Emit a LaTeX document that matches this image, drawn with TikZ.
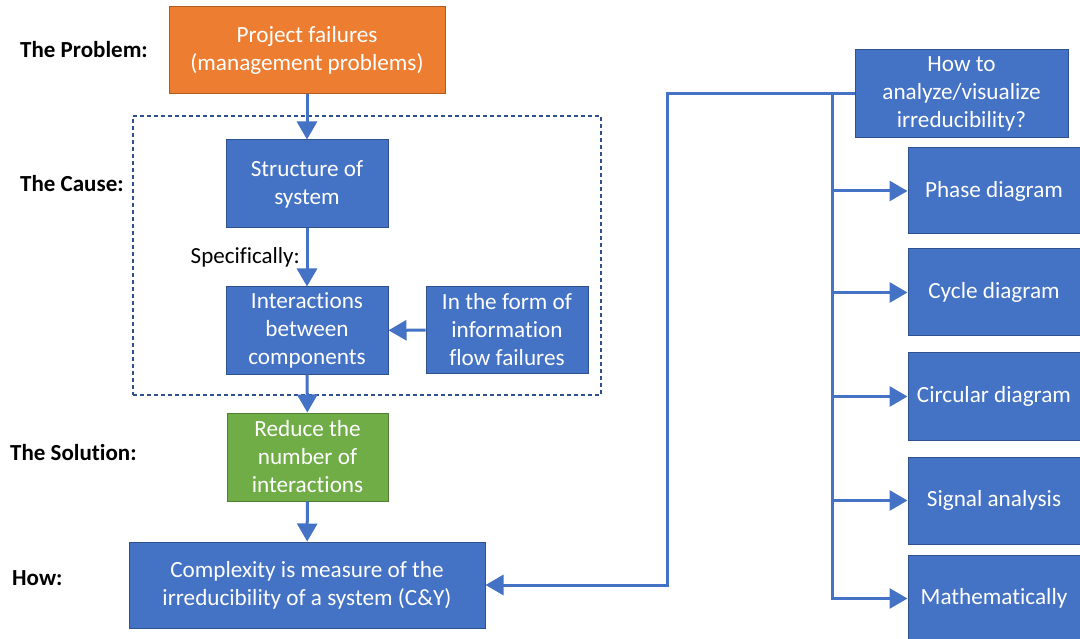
\documentclass[tikz,border=0pt]{standalone}
\usepackage{fontspec}
\setmainfont{Carlito}[Ligatures=NoCommon]
\usepackage{xcolor}
\usetikzlibrary{arrows.meta,positioning}

\definecolor{boxblue}{HTML}{4472C4}
\definecolor{edgeblue}{HTML}{2F528F}
\definecolor{boxorange}{HTML}{ED7D31}
\definecolor{edgeorange}{HTML}{AE5A21}
\definecolor{boxgreen}{HTML}{70AD47}
\definecolor{edgegreen}{HTML}{507E32}

\tikzset{
  block/.style={draw=edgeblue, fill=boxblue, line width=1pt, text=white,
    align=center, inner sep=2pt, font=\fontsize{23.2}{28}\selectfont},
  flow/.style={boxblue, line width=3pt, -{Triangle[length=18pt,width=20pt]}},
  stage/.style={anchor=west, inner sep=0pt, font=\fontsize{23}{28}\selectfont\bfseries},
}

\begin{document}
\begin{tikzpicture}[x=1pt,y=-1pt]
    \useasboundingbox (0,0) rectangle (1080,639);
    \clip (0,0) rectangle (1080,639);

    % dashed frame round the cause
    \node[draw=edgeblue, line width=1.1pt, dash pattern=on 4pt off 3pt,
      minimum width=468pt, minimum height=279pt, inner sep=0pt] (cause) at (367,255.5) {};

    % left column
    \node[block, fill=boxorange, draw=edgeorange, minimum width=276pt, minimum height=87pt]
      (problem) at (307,50.5) {Project failures\\(management problems)};
    \node[block, minimum width=162pt, minimum height=88pt]
      (structure) at (307,184) {Structure of\\system};
    \node[block, minimum width=162pt, minimum height=87pt]
      (interact) at (307,330.5) {Interactions\\between\\components};
    \node[block, minimum width=162pt, minimum height=86pt]
      (infoflow) at (507,330) {In the form of\\information\\flow failures};
    \node[block, fill=boxgreen, draw=edgegreen, minimum width=161pt, minimum height=88pt]
      (reduce) at (307.5,457) {Reduce the\\number of\\interactions};
    \node[block, minimum width=356pt, minimum height=86pt]
      (measure) at (307,585) {Complexity is measure of the\\irreducibility of a system (C\&Y)};

    \node[anchor=east, inner sep=0pt, font=\fontsize{23}{28}\selectfont] (specific) at (300,257) {Specifically:};

    \node[stage] (lproblem) at (20,50) {The Problem:};
    \node[stage] (lcause) at (20,184) {The Cause:};
    \node[stage] (lsolution) at (10,453) {The Solution:};
    \node[stage] (lhow) at (12,578) {How:};

    % right column
    \node[block, minimum width=213pt, minimum height=88pt]
      (ask) at (961.5,94) {How to\\analyze/visualize\\irreducibility?};
    \node[block, minimum width=172pt, minimum height=86pt] (phase) at (994,191) {Phase diagram};
    \node[block, minimum width=172pt, minimum height=87pt] (cycle) at (994,292.5) {Cycle diagram};
    \node[block, minimum width=172pt, minimum height=87pt] (circular) at (994,396.5) {Circular diagram};
    \node[block, minimum width=172pt, minimum height=87pt] (signal) at (994,500.5) {Signal analysis};
    \node[block, minimum width=172pt, minimum height=87pt] (maths) at (994,598.5) {Mathematically};

    \coordinate (split) at (667,94);
    \coordinate (trunk) at (832,94);

    \draw[flow] (problem) -- (structure);
    \draw[flow] (structure) -- (interact);
    \draw[flow] (infoflow) -- (interact);
    \draw[flow] (interact) -- (reduce);
    \draw[flow] (reduce) -- (measure);
    \draw[flow] (ask.west) -- (split) |- (measure.east);
    \foreach \target in {phase,cycle,circular,signal,maths}
      \draw[flow] (trunk) |- (\target.west);
\end{tikzpicture}
\end{document}
